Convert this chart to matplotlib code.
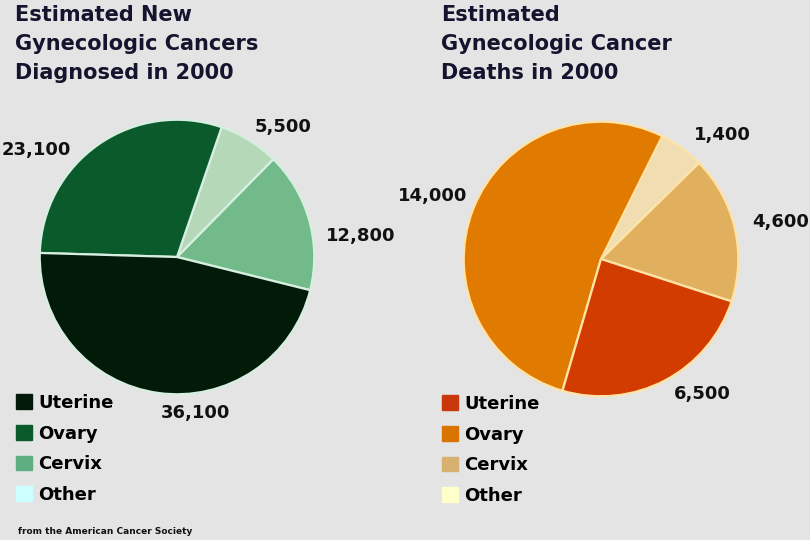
import matplotlib.pyplot as plt
from matplotlib.patches import Patch

# data
categories = ["Uterine", "Ovary", "Cervix", "Other"]
new_cases = [36100, 23100, 12800, 5500]
deaths = [6500, 14000, 4600, 1400]

new_colors = ["#021a08", "#0b5a2b", "#72ba8a", "#b4d8b8"]
new_legend_colors = ["#031a0a", "#0b5a2b", "#5fae82", "#ccffff"]
death_colors = ["#d23c00", "#e07a00", "#e0b05e", "#f0ddb2"]
death_legend_colors = ["#c8380a", "#d97400", "#d8b070", "#ffffcc"]

# counter-clockwise drawing order: Cervix, Other, Ovary, Uterine
order = [2, 3, 1, 0]

BG = "#e4e4e4"
TITLE_COLOR = "#14142e"
FONT = ["DejaVu Sans"]

fig = plt.figure(figsize=(8.1, 5.4), dpi=100, facecolor=BG)
W, H = 810, 540


def px(x, y):
    return x / W, 1 - y / H


def draw_pie(rect, values, colors, edge, start):
    ax = fig.add_axes(rect)
    ax.pie(
        [values[i] for i in order],
        colors=[colors[i] for i in order],
        startangle=start,
        counterclock=True,
        wedgeprops=dict(edgecolor=edge, linewidth=1.6),
    )
    ax.set_xlim(-1.02, 1.02)
    ax.set_ylim(-1.02, 1.02)
    ax.set_aspect("equal")
    ax.axis("off")
    return ax


# left pie: centre (177, 257), radius ~137 px
draw_pie([(177 - 140) / W, (540 - 257 - 140) / H, 280 / W, 280 / H],
         new_cases, new_colors, "#d6efe0", -14)
# right pie: centre (601, 259)
draw_pie([(601 - 140) / W, (540 - 259 - 140) / H, 280 / W, 280 / H],
         deaths, death_colors, "#ffe3a6", -18)

# titles
title_kw = dict(fontsize=15, fontweight="bold", color=TITLE_COLOR,
                family=FONT, ha="left", va="center", linespacing=1.55)
fig.text(*px(15, 44), "Estimated New\nGynecologic Cancers\nDiagnosed in 2000", **title_kw)
fig.text(*px(441, 44), "Estimated\nGynecologic Cancer\nDeaths in 2000", **title_kw)

# value labels
lab_kw = dict(fontsize=13, fontweight="bold", color="#111111",
              family=FONT, ha="center", va="center")
new_label_pos = [(196, 413), (36, 150), (361, 236), (283, 127)]
death_label_pos = [(702, 394), (433, 196), (781, 222), (722, 135)]
for v, p in zip(new_cases, new_label_pos):
    fig.text(*px(*p), f"{v:,}", **lab_kw)
for v, p in zip(deaths, death_label_pos):
    fig.text(*px(*p), f"{v:,}", **lab_kw)

# legends
leg_kw = dict(loc="upper left", frameon=False, handlelength=0.88,
              handleheight=0.88, handletextpad=0.35, labelspacing=0.7,
              borderaxespad=0, borderpad=0,
              prop=dict(family=FONT, weight="bold", size=13))
fig.legend(handles=[Patch(color=c, label=n) for c, n in zip(new_legend_colors, categories)],
           bbox_to_anchor=px(16, 394), **leg_kw)
fig.legend(handles=[Patch(color=c, label=n) for c, n in zip(death_legend_colors, categories)],
           bbox_to_anchor=px(442, 395), **leg_kw)

fig.text(*px(18, 531), "from the American Cancer Society", fontsize=6.5,
         fontweight="bold", family=FONT, color="#111111", ha="left", va="center")

fig.savefig("out.png", dpi=100, facecolor=BG)
